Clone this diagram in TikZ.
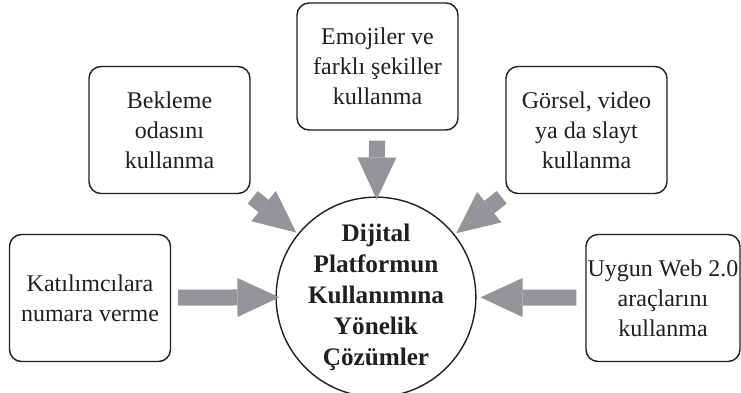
\documentclass[tikz,border=0pt]{standalone}
\usepackage{fontspec}
\setmainfont{Liberation Serif}
\usetikzlibrary{arrows.meta}

\definecolor{solutionArrow}{RGB}{147,149,152}
\definecolor{solutionLine}{RGB}{35,31,32}
\definecolor{solutionText}{RGB}{35,31,32}

\begin{document}
\begin{tikzpicture}[x=.5pt,y=.5pt,
      idea/.style={draw=solutionLine, fill=white, rounded corners=6pt,
        line width=.7pt, minimum width=80.5pt, minimum height=63.5pt,
        inner sep=0pt, align=center, text=solutionText,
        font=\fontsize{12}{15}\selectfont},
      hub/.style={draw=solutionLine, fill=white, circle, line width=.7pt,
        minimum size=88pt, inner sep=0pt, align=center, text=solutionText,
        font=\fontsize{12.6}{15.5}\selectfont\bfseries},
      push/.style={draw=solutionArrow, line width=8pt,
        -{Triangle[width=19.5pt,length=21pt,line width=0pt]}}]
      \useasboundingbox (0,0) rectangle (741,392);
      \fill[white] (0,0) rectangle (741,392);

      \node[hub] (hub) at (376,95)
        {Dijital\\Platformun\\Kullanımına\\Yönelik\\Çözümler};

      \node[idea] (katilim) at (90,94) {Katılımcılara\\numara verme};
      \node[idea] (bekleme) at (169.5,262) {Bekleme\\odasını\\kullanma};
      \node[idea] (emoji) at (377.5,325.5)
        {Emojiler ve\\farklı şekiller\\kullanma};
      \node[idea] (gorsel) at (586.5,262)
        {Görsel, video\\ya da slayt\\kullanma};
      \node[idea, minimum width=77pt] (web) at (663,94)
        {Uygun Web 2.0\\araçlarını\\kullanma};

      \draw[push, shorten <=3.5pt, shorten >=-2pt] (katilim) -- (hub);
      \draw[push, shorten <=2.5pt, shorten >=1pt] (bekleme) -- (hub);
      \draw[push, shorten <=5pt, shorten >=-1.5pt] (emoji) -- (hub);
      \draw[push, shorten <=2.5pt, shorten >=1pt] (gorsel) -- (hub);
      \draw[push, shorten <=4.5pt, shorten >=2pt] (web) -- (hub);
    \end{tikzpicture}
\end{document}
